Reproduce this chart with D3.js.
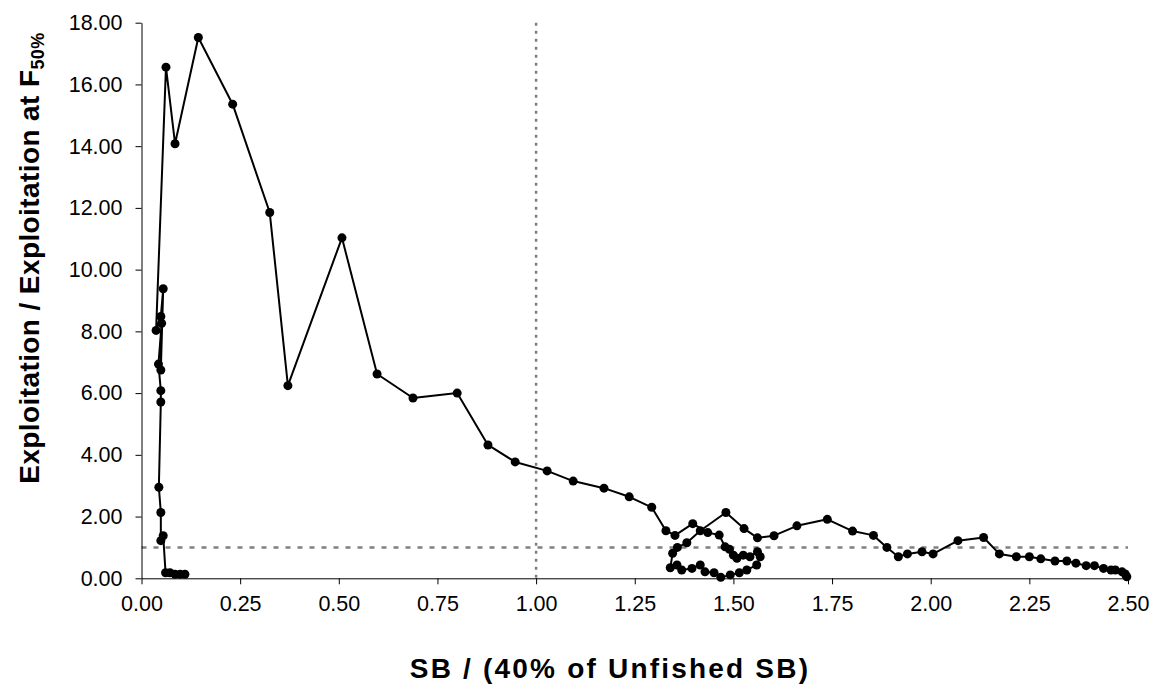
<!DOCTYPE html>
<html>
<head>
<meta charset="utf-8">
<script src="https://cdn.jsdelivr.net/npm/d3@7"></script>
<style>
  html, body { margin: 0; padding: 0; background: #fff; }
  svg { display: block; font-family: "Liberation Sans", Arial, Helvetica, sans-serif; }
</style>
</head>
<body>
<svg id="chart" width="1161" height="687"></svg>
<script>
// Trajectory (chronological order, from unfished state at the right)
const sbRatio = [
  2.497, 2.493, 2.485, 2.468, 2.457, 2.438, 2.415, 2.394, 2.368, 2.345, 2.315, 2.279, 2.250, 2.217, 2.174,
  2.134, 2.069, 2.006, 1.978, 1.941, 1.918, 1.889, 1.855, 1.802, 1.738, 1.661, 1.603, 1.561, 1.527, 1.481,
  1.416, 1.382, 1.358, 1.346, 1.340, 1.357, 1.369, 1.395, 1.416, 1.428, 1.451, 1.468, 1.492, 1.515, 1.534,
  1.559, 1.568, 1.561, 1.542, 1.525, 1.509, 1.500, 1.490, 1.479, 1.464, 1.435, 1.397, 1.352, 1.329, 1.293,
  1.236, 1.172, 1.094, 1.028, 0.947, 0.878, 0.800, 0.688, 0.597, 0.508, 0.371, 0.325, 0.231, 0.144, 0.085,
  0.062, 0.037, 0.049, 0.055, 0.049, 0.051, 0.043, 0.049, 0.049, 0.044, 0.049, 0.049, 0.055, 0.061, 0.072,
  0.085, 0.098, 0.110
];
const exploitRatio = [
  0.05, 0.14, 0.21, 0.27, 0.27, 0.32, 0.41, 0.41, 0.49, 0.56, 0.56, 0.63, 0.70, 0.70, 0.79,
  1.32, 1.22, 0.79, 0.86, 0.79, 0.70, 1.00, 1.39, 1.53, 1.91, 1.70, 1.38, 1.31, 1.61, 2.13,
  1.54, 1.15, 1.00, 0.81, 0.34, 0.43, 0.27, 0.32, 0.43, 0.21, 0.18, 0.03, 0.11, 0.18, 0.27,
  0.43, 0.70, 0.86, 0.70, 0.75, 0.65, 0.75, 0.94, 1.02, 1.40, 1.48, 1.77, 1.39, 1.54, 2.30,
  2.64, 2.92, 3.15, 3.48, 3.77, 4.32, 6.00, 5.84, 6.62, 11.03, 6.24, 11.85, 15.36, 17.52, 14.08,
  16.56, 8.03, 8.48, 9.38, 6.75, 8.26, 6.94, 6.08, 5.71, 2.95, 2.13, 1.22, 1.38, 0.18, 0.18,
  0.13, 0.13, 0.13
];
const xTicks = [0, 0.25, 0.5, 0.75, 1.0, 1.25, 1.5, 1.75, 2.0, 2.25, 2.5];
const yTicks = [0, 2, 4, 6, 8, 10, 12, 14, 16, 18];
const refX = [1.0];
const refY = [1.0];
const xTitle = "SB / (40% of Unfished SB)";
const yTitleMain = "Exploitation / Exploitation at F";
const yTitleSub = "50%";

const svg = d3.select("#chart");
const x = d3.scaleLinear().domain([0, 2.5]).range([141.5, 1128]);
const y = d3.scaleLinear().domain([0, 18]).range([578.3, 22.7]);

// Reference lines
svg.selectAll(".refx").data(refX).enter().append("line")
  .attr("x1", d => x(d)).attr("x2", d => x(d))
  .attr("y1", y(18)).attr("y2", y(0))
  .attr("stroke", "#808080").attr("stroke-width", 2.5).attr("stroke-dasharray", "3,5");
svg.selectAll(".refy").data(refY).enter().append("line")
  .attr("x1", x(0)).attr("x2", x(2.5))
  .attr("y1", d => y(d)).attr("y2", d => y(d))
  .attr("stroke", "#808080").attr("stroke-width", 2.5).attr("stroke-dasharray", "5,7");

// Axes
const xAxis = d3.axisBottom(x).tickValues(xTicks).tickFormat(d3.format(".2f"))
  .tickSize(6).tickSizeOuter(0).tickPadding(11);
const yAxis = d3.axisLeft(y).tickValues(yTicks).tickFormat(d3.format(".2f"))
  .tickSize(6).tickSizeOuter(0).tickPadding(13);

const gx = svg.append("g").attr("transform", `translate(0,${y(0)})`).call(xAxis);
const gy = svg.append("g").attr("transform", `translate(${x(0)},0)`).call(yAxis);
[gx, gy].forEach(g => {
  g.selectAll("text").attr("font-size", 21.5).attr("fill", "#000")
    .attr("font-family", "'Liberation Sans', Arial, sans-serif");
  g.select(".domain").attr("stroke", "#000");
  g.selectAll(".tick line").attr("stroke", "#000");
});

// Trajectory
const pts = sbRatio.map((v, i) => [v, exploitRatio[i]]);
const line = d3.line().x(d => x(d[0])).y(d => y(d[1]));
svg.append("path").datum(pts).attr("d", line)
  .attr("fill", "none").attr("stroke", "#000").attr("stroke-width", 2).attr("stroke-linejoin", "round");
svg.selectAll(".pt").data(pts).enter().append("circle")
  .attr("cx", d => x(d[0])).attr("cy", d => y(d[1])).attr("r", 4.5).attr("fill", "#000");

// Titles
svg.append("text").attr("x", 610).attr("y", 678).attr("text-anchor", "middle")
  .attr("font-size", 28).attr("font-weight", "bold").attr("letter-spacing", 2.2).text(xTitle);

const yt = svg.append("text").attr("transform", "translate(39,258) rotate(-90)")
  .attr("text-anchor", "middle").attr("font-size", 28).attr("font-weight", "bold")
  .attr("letter-spacing", 0.4);
yt.append("tspan").text(yTitleMain);
yt.append("tspan").attr("font-size", 18).attr("dy", "0.25em").text(yTitleSub);
</script>
</body>
</html>
